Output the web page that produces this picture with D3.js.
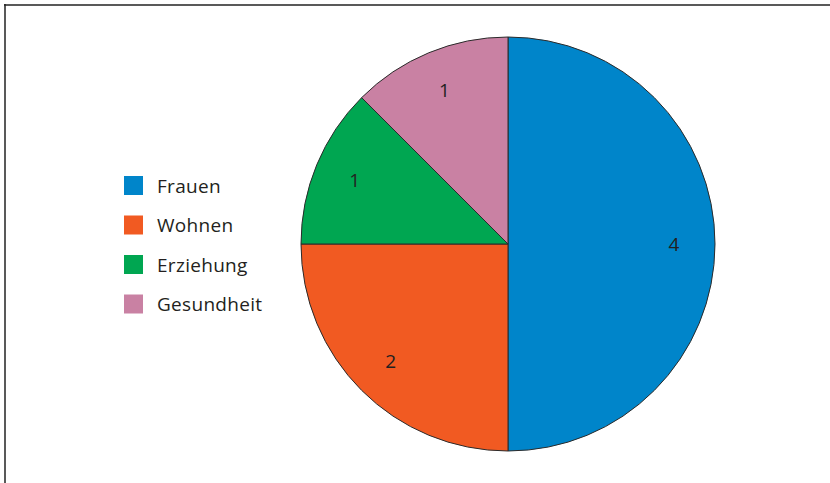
<!DOCTYPE html>
<html>
<head>
<meta charset="utf-8">
<script src="https://cdn.jsdelivr.net/npm/d3@7"></script>
<style>
  body { margin: 0; background: #fff; }
  svg { display: block; font-family: "Open Sans", "Noto Sans", sans-serif; }
</style>
</head>
<body>
<svg id="chart"></svg>
<script>
// data
const categories = ["Frauen", "Wohnen", "Erziehung", "Gesundheit"];
const values = [4, 2, 1, 1];
const colors = ["#0085CA", "#F15A22", "#00A651", "#C981A3"];

function draw_pie() {
    let width = 830;
    let height = 483;
    let radius = 207;
    let cx = 508, cy = 244;

    const svg = d3.select("#chart")
        .attr("width", width)
        .attr("height", height);

    // frame (top and left lines only visible)
    svg.append("line")
        .attr("x1", 4).attr("y1", 5).attr("x2", width).attr("y2", 5)
        .attr("stroke", "#222").attr("stroke-width", 1.5);
    svg.append("line")
        .attr("x1", 5).attr("y1", 4).attr("x2", 5).attr("y2", height)
        .attr("stroke", "#222").attr("stroke-width", 1.5);

    const color = d3.scaleOrdinal().domain(categories).range(colors);

    const data = categories.map((c, i) => ({ name: c, value: values[i] }));

    const pie = d3.pie()
        .value(d => d.value)
        .sort(null);

    const arc = d3.arc().innerRadius(0).outerRadius(radius);
    const label_arc = d3.arc().innerRadius(166).outerRadius(166);

    const g = svg.append("g").attr("transform", `translate(${cx},${cy})`);

    const arcs = pie(data);

    g.selectAll("path")
        .data(arcs)
        .join("path")
        .attr("d", arc)
        .attr("fill", d => color(d.data.name))
        .attr("stroke", "#2b2b2b")
        .attr("stroke-width", 1);

    g.selectAll("text")
        .data(arcs)
        .join("text")
        .attr("transform", d => `translate(${label_arc.centroid(d)})`)
        .attr("text-anchor", "middle")
        .attr("dy", "0.35em")
        .attr("font-size", 19)
        .attr("fill", "#231f20")
        .text(d => d.data.value);

    // legend
    const legend = svg.append("g").attr("transform", "translate(124,176)");
    const item = legend.selectAll("g")
        .data(categories)
        .join("g")
        .attr("transform", (d, i) => `translate(0,${i * 39.5})`);

    item.append("rect")
        .attr("width", 19).attr("height", 19)
        .attr("fill", d => color(d));

    item.append("text")
        .attr("x", 33)
        .attr("y", 10)
        .attr("dy", "0.35em")
        .attr("font-size", 19)
        .attr("letter-spacing", 0.3)
        .attr("fill", "#231f20")
        .text(d => d);
}

draw_pie();
</script>
</body>
</html>
